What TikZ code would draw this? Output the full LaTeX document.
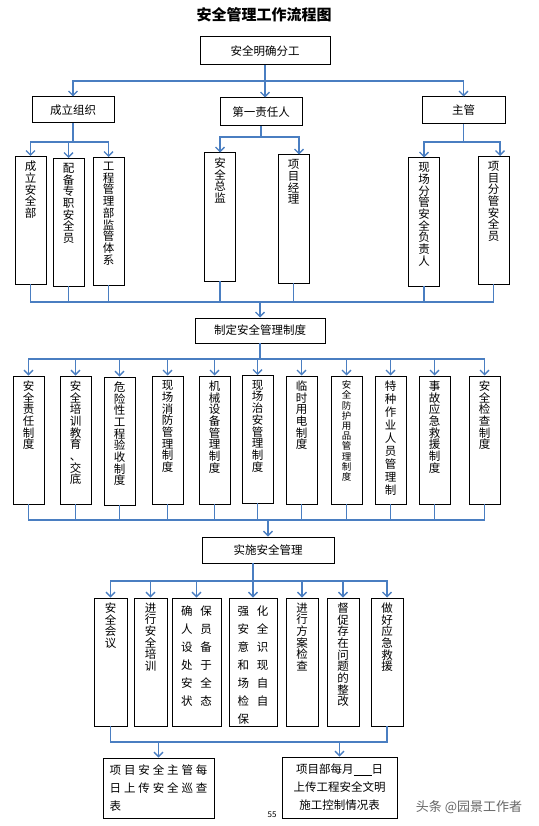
\documentclass[tikz,border=0pt]{standalone}
\usepackage{fontspec}
\setmainfont{Noto Sans CJK SC}
\newfontfamily\spacedfont[LetterSpace=25]{Noto Sans CJK SC}
\XeTeXlinebreaklocale "zh"
\XeTeXlinebreakskip=0pt plus 1pt
\usetikzlibrary{arrows.meta}
\usetikzlibrary{positioning}

\definecolor{linkblue}{RGB}{74,126,193}
\newcommand{\duo}[2]{#1\hspace{8pt}#2}

\tikzset{
  hbox/.style={draw, line width=1pt, inner sep=0pt, font=\fontsize{11.5}{13}\selectfont},
  tall/.style={draw, line width=1pt, inner sep=0pt, minimum width=31pt, minimum height=128pt},
  vlab/.style={anchor=north, yshift=-5pt, inner sep=0pt, text width=13pt, align=center, font=\fontsize{11.5}{11.7}\selectfont},
  dlab/.style={anchor=north, yshift=-8pt, inner sep=0pt, align=left, font=\fontsize{11.5}{18}\selectfont},
  link/.style={draw=linkblue, line width=1.3pt, line cap=rect},
  arr/.style={link, -{Straight Barb[length=4.5pt, width=9pt]}},
}

\begin{document}
\begin{tikzpicture}[x=1pt, y=-1pt]
	\fill[white] (0,0) rectangle (538,826);
	\useasboundingbox (0,0) rectangle (538,826);

	\node[font=\fontsize{15}{17}\selectfont\bfseries] (title) at (264,15) {安全管理工作流程图};

	% first levels
	\node[hbox, minimum width=130pt, minimum height=28pt] (fen) at (265,51) {安全明确分工};
	\node[hbox, minimum width=82pt, minimum height=26pt] (zuzhi) at (73,110) {成立组织};
	\node[hbox, minimum width=82pt, minimum height=28pt] (zeren) at (261,112) {第一责任人};
	\node[hbox, minimum width=83pt, minimum height=27pt] (zhuguan) at (463.5,110.5) {主管};

	\node[tall, label={[vlab]north:成立安全部}] (b1) at (30.5,220.5) {};
	\node[tall, label={[vlab]north:配备专职安全员}] (b2) at (68.5,222.5) {};
	\node[tall, label={[vlab]north:工程管理部监管体系}] (b3) at (108.5,221.5) {};
	\node[tall, label={[vlab]north:安全总监}] (b4) at (220,217) {};
	\node[tall, label={[vlab]north:项目经理}] (b5) at (293.5,219) {};
	\node[tall, label={[vlab]north:现场分管安全负责人}] (b6) at (424,222) {};
	\node[tall, label={[vlab]north:项目分管安全员}] (b7) at (493.5,220.5) {};

	% rules
	\node[hbox, minimum width=130pt, minimum height=25pt] (zhiding) at (260,330.5) {制定安全管理制度};

	\node[tall, label={[vlab]north:安全责任制度}] (c1) at (28.5,440) {};
	\node[tall, label={[vlab]north:安全培训教育\\、交底}] (c2) at (75.5,440) {};
	\node[tall, label={[vlab]north:危险性工程验收制度}] (c3) at (119.5,441) {};
	\node[tall, label={[vlab]north:现场消防管理制度}] (c4) at (167.5,440) {};
	\node[tall, label={[vlab]north:机械设备管理制度}] (c5) at (214.5,440) {};
	\node[tall, label={[vlab]north:现场治安管理制度}] (c6) at (257.5,439.5) {};
	\node[tall, label={[vlab]north:临时用电制度}] (c7) at (301.5,440) {};
	\node[tall, label={[vlab, font=\fontsize{9.5}{10.2}\selectfont]north:安全防护用品管理制度}] (c8) at (346.5,440) {};
	\node[tall, label={[vlab, font=\fontsize{11.5}{13}\selectfont]north:特种作业人员管理制}] (c9) at (390.5,440) {};
	\node[tall, label={[vlab]north:事故应急救援制度}] (c10) at (434.5,440) {};
	\node[tall, label={[vlab]north:安全检查制度}] (c11) at (484.5,440) {};

	% management
	\node[hbox, minimum width=132pt, minimum height=26pt] (shishi) at (268,550) {实施安全管理};

	\node[tall, minimum width=33pt, label={[vlab]north:安全会议}] (d1) at (110.5,662) {};
	\node[tall, minimum width=33pt, label={[vlab]north:进行安全培训}] (d2) at (150.5,662) {};
	\node[tall, minimum width=49pt, label={[dlab]north:\duo{确}{保}\\\duo{人}{员}\\\duo{设}{备}\\\duo{处}{于}\\\duo{安}{全}\\\duo{状}{态}}] (d3) at (196.5,662) {};
	\node[tall, minimum width=48pt, label={[dlab]north:\duo{强}{化}\\\duo{安}{全}\\\duo{意}{识}\\\duo{和}{现}\\\duo{场}{自}\\\duo{检}{自}\\保}] (d4) at (253,662) {};
	\node[tall, minimum width=32pt, label={[vlab]north:进行方案检查}] (d5) at (302,662) {};
	\node[tall, minimum width=32pt, label={[vlab]north:督促存在问题的整改}] (d6) at (343,662) {};
	\node[tall, minimum width=32pt, label={[vlab]north:做好应急救援}] (d7) at (387,662) {};

	\node[hbox, minimum width=111pt, minimum height=60pt, align=left, font=\fontsize{11.5}{18}\selectfont\spacedfont] (e1) at (158.5,788) {项目安全主管每\\日上传安全巡查\\表};
	\node[hbox, minimum width=115pt, minimum height=61pt, align=center, font=\fontsize{11.5}{18}\selectfont] (e2) at (339.5,787.5) {项目部每月\underline{\hspace{18pt}}日\\上传工程安全文明\\施工控制情况表};

	\node[font=\fontsize{8}{9}\selectfont] (page) at (272,815) {55};
	\node[font=\fontsize{13}{15}\selectfont, text=black!60] (mark) at (469,807) {头条 @园景工作者};

	% connectors
	\coordinate (y1) at (0,81);
	\coordinate (y2) at (0,142);
	\coordinate (y2m) at (0,137);
	\coordinate (y3) at (0,302);
	\coordinate (y4) at (0,359);
	\coordinate (y5) at (0,520);
	\coordinate (y6) at (0,581);
	\coordinate (y7) at (0,742);

	\draw[link] (fen) -- (fen |- y1);
	\draw[link] (zuzhi |- y1) -- (zhuguan |- y1);
	\draw[arr] (zuzhi |- y1) -- (zuzhi);
	\draw[arr] (fen |- y1) -- (fen |- zeren.north);
	\draw[arr] (zhuguan |- y1) -- (zhuguan);

	\draw[link] (zuzhi) -- (zuzhi |- y2);
	\draw[link] (b1 |- y2) -- (b3 |- y2);
	\foreach \n in {b1,b2,b3} \draw[arr] (\n |- y2) -- (\n);

	\draw[link] (zeren) -- (zeren |- y2m);
	\draw[link] (b4 |- y2m) -- ([xshift=5.5pt]b5.north |- y2m);
	\draw[arr] (b4 |- y2m) -- (b4);
	\draw[arr] ([xshift=5.5pt]b5.north |- y2m) -- ([xshift=5.5pt]b5.north);

	\draw[link] (zhuguan) -- (zhuguan |- y2);
	\draw[link] (b6 |- y2) -- ([xshift=6.5pt]b7.north |- y2);
	\draw[arr] (b6 |- y2) -- (b6);
	\draw[arr] ([xshift=6.5pt]b7.north |- y2) -- ([xshift=6.5pt]b7.north);

	\foreach \n in {b1,b2,b3,b4,b5,b6,b7} \draw[link] (\n) -- (\n |- y3);
	\draw[link] (b1 |- y3) -- (b7 |- y3);
	\draw[arr] (zhiding |- y3) -- (zhiding);

	\draw[link] (zhiding) -- (zhiding |- y4);
	\draw[link] (c1 |- y4) -- (c11 |- y4);
	\foreach \n in {c1,c2,c3,c4,c5,c6,c7,c8,c9,c10,c11} {
		\draw[arr] (\n |- y4) -- (\n);
		\draw[link] (\n) -- (\n |- y5);
	}
	\draw[link] (c1 |- y5) -- (c11 |- y5);
	\draw[arr] (shishi |- y5) -- (shishi);

	\draw[arr] (shishi.south -| d4) -- (d4);
	\draw[link] (d1 |- y6) -- (d7 |- y6);
	\foreach \n in {d1,d2,d3,d5,d6,d7} \draw[arr] (\n |- y6) -- (\n);
	\draw[link] (d1) -- (d1 |- y7);
	\draw[link] (d7) -- (d7 |- y7);
	\draw[link] (d1 |- y7) -- (d7 |- y7);
	\draw[arr] (e1 |- y7) -- (e1);
	\draw[arr] (e2 |- y7) -- (e2);
\end{tikzpicture}
\end{document}
